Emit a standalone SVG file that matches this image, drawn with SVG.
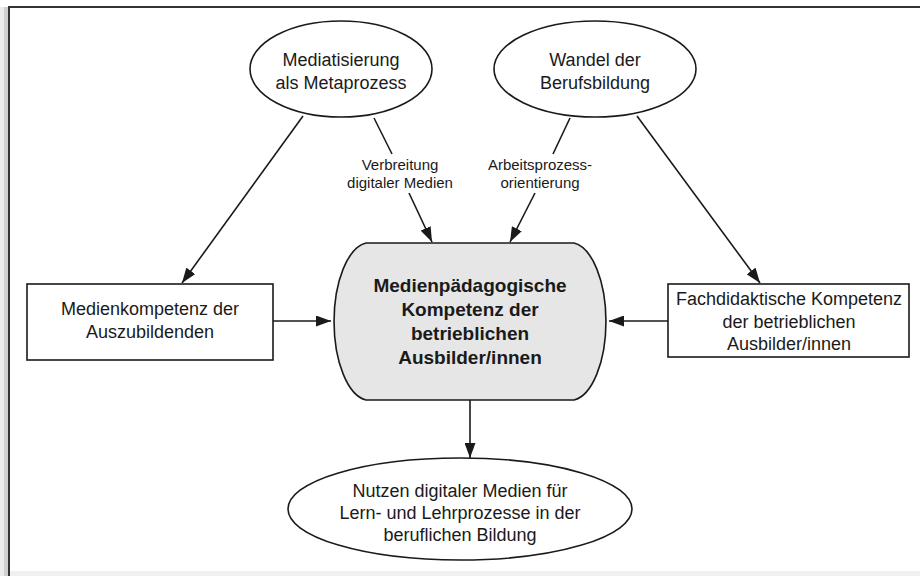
<svg xmlns="http://www.w3.org/2000/svg" width="920" height="576" viewBox="0 0 920 576">
<defs>
<style>
.n{fill:#fff;stroke:#1a1a1a;stroke-width:1.6}
.t{font-family:"Liberation Sans",Arial,sans-serif;font-size:18px;fill:#1a1a1a;text-anchor:middle}
.b{font-weight:bold;font-size:19px}
.s{font-size:15px}
.c{stroke:#1a1a1a;stroke-width:1.6;fill:none}
</style>
<marker id="ah" viewBox="0 0 15 11" refX="15" refY="5.5" markerWidth="15" markerHeight="11" markerUnits="userSpaceOnUse" orient="auto">
<path d="M0,0 L15,5.5 L0,11 Z" fill="#1a1a1a"/>
</marker>
</defs>
<rect x="0" y="0" width="920" height="576" fill="#fff"/>
<rect x="0" y="7" width="9" height="569" fill="#ececec"/>
<rect x="4" y="7" width="5" height="569" fill="#d0d0d0"/>
<rect x="9" y="571" width="911" height="5" fill="#f1f1f1"/>
<rect x="9" y="7" width="940" height="600" fill="none" stroke="#333" stroke-width="2"/>

<g id="connectors">
<line class="c" x1="303" y1="116" x2="182" y2="283" marker-end="url(#ah)"/>
<line class="c" x1="374" y1="118" x2="392" y2="154"/>
<line class="c" x1="409" y1="193" x2="432" y2="242" marker-end="url(#ah)"/>
<line class="c" x1="570" y1="118" x2="553" y2="154"/>
<line class="c" x1="535" y1="193" x2="510" y2="242" marker-end="url(#ah)"/>
<line class="c" x1="637" y1="116" x2="760" y2="283" marker-end="url(#ah)"/>
<line class="c" x1="273" y1="321" x2="331" y2="321" marker-end="url(#ah)"/>
<line class="c" x1="668" y1="321" x2="609" y2="321" marker-end="url(#ah)"/>
<line class="c" x1="470" y1="400" x2="470" y2="458" marker-end="url(#ah)"/>
<text class="t s" x="400" y="170">Verbreitung</text>
<text class="t s" x="400" y="188">digitaler Medien</text>
<text class="t s" x="540" y="170">Arbeitsprozess-</text>
<text class="t s" x="540" y="188">orientierung</text>
</g>

<g id="mediatisierung">
<ellipse class="n" cx="341" cy="69" rx="91" ry="48"/>
<text class="t" x="341" y="66">Mediatisierung</text>
<text class="t" x="341" y="89">als Metaprozess</text>
</g>

<g id="wandel">
<ellipse class="n" cx="595" cy="69" rx="101" ry="48"/>
<text class="t" x="595" y="66">Wandel der</text>
<text class="t" x="595" y="89">Berufsbildung</text>
</g>

<g id="medienkompetenz">
<rect class="n" x="27" y="284" width="246" height="76"/>
<text class="t" x="150" y="315">Medienkompetenz der</text>
<text class="t" x="150" y="338">Auszubildenden</text>
</g>

<g id="zentrum">
<path d="M366,243 L574,243 A36,79 0 0 1 574,400 L366,400 A36,79 0 0 1 366,243 Z" fill="#e6e6e6" stroke="#1a1a1a" stroke-width="1.6"/>
<text class="t b" x="470" y="292">Medienpädagogische</text>
<text class="t b" x="470" y="316">Kompetenz der</text>
<text class="t b" x="470" y="340">betrieblichen</text>
<text class="t b" x="470" y="364">Ausbilder/innen</text>
</g>

<g id="fachdidaktik">
<rect class="n" x="668" y="284" width="241" height="73"/>
<text class="t" x="789" y="305">Fachdidaktische Kompetenz</text>
<text class="t" x="789" y="328">der betrieblichen</text>
<text class="t" x="789" y="350">Ausbilder/innen</text>
</g>

<g id="nutzen">
<ellipse class="n" cx="460" cy="509" rx="172" ry="51"/>
<text class="t" x="460" y="497">Nutzen digitaler Medien für</text>
<text class="t" x="460" y="519">Lern- und Lehrprozesse in der</text>
<text class="t" x="460" y="541">beruflichen Bildung</text>
</g>
</svg>
